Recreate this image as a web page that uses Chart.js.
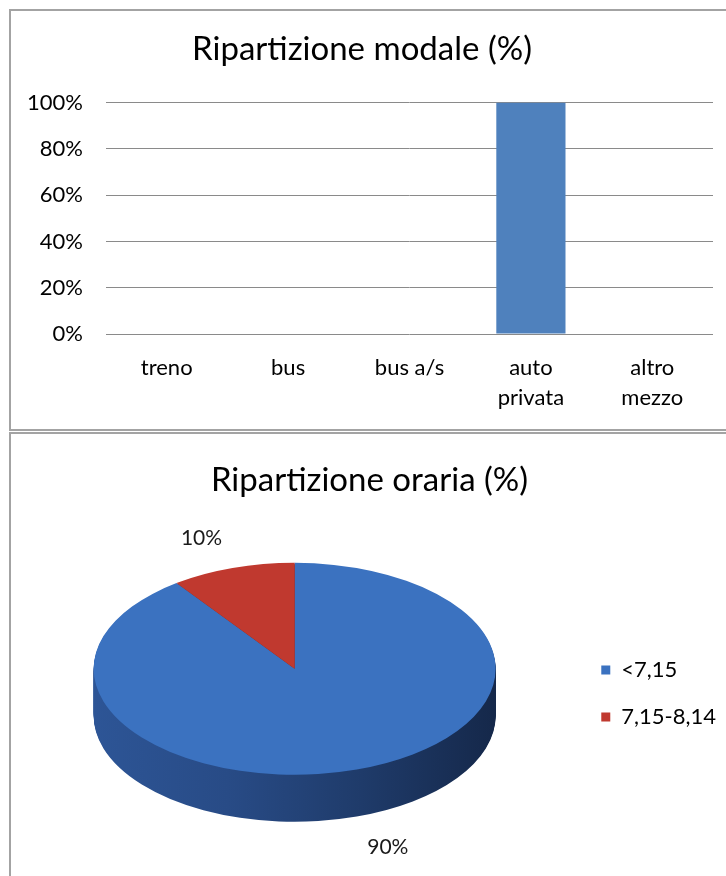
<!DOCTYPE html>
<html>
<head>
<meta charset="utf-8">
<script src="https://cdn.jsdelivr.net/npm/chart.js@4/dist/chart.umd.min.js"></script>
<style>
html,body{margin:0;padding:0;background:#fff;width:726px;height:876px;overflow:hidden;}
.panel{position:absolute;box-sizing:border-box;border:2px solid #a3a3a3;border-right:none;}
#p1{left:9px;top:9px;width:717px;height:422px;}
#p2{left:9px;top:432px;width:717px;height:450px;border-bottom:none;}
canvas{position:absolute;}
#c1{left:11px;top:11px;}
#c2{left:11px;top:435px;}
</style>
</head>
<body>
<div class="panel" id="p1"></div>
<div class="panel" id="p2"></div>
<canvas id="c1" width="715" height="418"></canvas>
<canvas id="c2" width="715" height="441"></canvas>
<script>
// ---- data ----
const modeCategories = ['treno', 'bus', 'bus a/s', ['auto', 'privata'], ['altro', 'mezzo']];
const modeShares = [0, 0, 0, 100, 0];
const modeTicks = [0, 20, 40, 60, 80, 100];
const timeSlots = ['<7,15', '7,15-8,14'];
const timeShares = [90, 10];

const FONT = 'Lato';

const legendShift = {
  id: 'legendShift',
  afterLayout(chart, args, opts) {
    const lg = chart.legend;
    if (!lg) return;
    lg.top += opts.dy; lg.bottom += opts.dy;
    lg.left += opts.dx; lg.right += opts.dx;
  }
};

const pie3d = {
  id: 'pie3d',
  beforeDatasetsDraw(chart, args, opts) {
    const arcs = chart.getDatasetMeta(0).data;
    if (!arcs.length) return;
    const ctx = chart.ctx;
    const {x: cx, y: cy, outerRadius: r} = arcs[0];
    const k = opts.tilt, d = opts.depth;
    const sides = opts.sideColors.map(stops => {
      const g = ctx.createLinearGradient(cx - r, 0, cx + r, 0);
      stops.forEach((c, i) => g.addColorStop(i / (stops.length - 1), c));
      return g;
    });
    for (let i = d; i >= 1; i--) {
      ctx.save();
      ctx.translate(cx, cy - d / 2 + i);
      ctx.scale(1, k);
      ctx.translate(-cx, -cy);
      arcs.forEach((a, j) => {
        const o = a.options;
        const bg = o.backgroundColor;
        o.backgroundColor = sides[j];
        a.draw(ctx);
        o.backgroundColor = bg;
      });
      ctx.restore();
    }
  },
  beforeDatasetDraw(chart, args, opts) {
    const arcs = chart.getDatasetMeta(0).data;
    const ctx = chart.ctx;
    const {x: cx, y: cy} = arcs[0];
    ctx.save();
    ctx.translate(cx, cy - opts.depth / 2);
    ctx.scale(1, opts.tilt);
    ctx.translate(-cx, -cy);
  },
  afterDatasetDraw(chart) {
    chart.ctx.restore();
  },
  afterDatasetsDraw(chart, args, opts) {
    const arcs = chart.getDatasetMeta(0).data;
    const ctx = chart.ctx;
    const values = chart.data.datasets[0].data;
    const total = values.reduce((s, v) => s + v, 0);
    const {x: cx, y: cy, outerRadius: r} = arcs[0];
    const k = opts.tilt, d = opts.depth;
    ctx.save();
    ctx.font = '21px ' + FONT;
    ctx.fillStyle = '#1a1a1a';
    ctx.textAlign = 'center';
    ctx.textBaseline = 'middle';
    arcs.forEach((a, j) => {
      const mid = (a.startAngle + a.endAngle) / 2;
      const x = cx + Math.cos(mid) * r * opts.fx;
      let y = cy - d / 2 + Math.sin(mid) * r * k * opts.fy;
      if (Math.sin(mid) > 0) y += d;
      ctx.fillText(Math.round(values[j] / total * 100) + '%', x, y);
    });
    ctx.restore();
  }
};

function build() {
  new Chart(document.getElementById('c1'), {
    type: 'bar',
    data: {
      labels: modeCategories,
      datasets: [{
        data: modeShares,
        backgroundColor: '#4F81BD',
        borderWidth: 0,
        barPercentage: 0.57,
        categoryPercentage: 1
      }]
    },
    options: {
      responsive: false,
      animation: false,
      layout: {padding: {left: 0, right: 13, top: 0, bottom: 16}},
      plugins: {
        legend: {display: false},
        tooltip: {enabled: false},
        title: {
          display: true,
          text: 'Ripartizione modale (%)',
          font: {family: FONT, size: 33, weight: 'normal'},
          color: '#000',
          padding: {top: 19, bottom: 33}
        }
      },
      scales: {
        x: {
          afterFit: s => { s.height = 79; },
          grid: {display: false, drawTicks: false},
          border: {display: false},
          ticks: {font: {family: FONT, size: 22, lineHeight: 1.36}, color: '#000', padding: 19, maxRotation: 0, autoSkip: false}
        },
        y: {
          min: 0, max: 100,
          afterBuildTicks: s => { s.ticks = modeTicks.map(v => ({value: v})); },
          afterFit: s => { s.width = 95; },
          grid: {color: '#8a8a8a', lineWidth: 1, drawTicks: false},
          border: {display: false},
          ticks: {font: {family: FONT, size: 22}, color: '#000', padding: 23, callback: v => v + '%'}
        }
      }
    }
  });

  new Chart(document.getElementById('c2'), {
    type: 'pie',
    data: {
      labels: timeSlots,
      datasets: [{
        data: timeShares,
        backgroundColor: ['#3B72C0', '#C0392F'],
        borderWidth: 0,
        radius: 201,
        clip: false
      }]
    },
    options: {
      responsive: false,
      animation: false,
      layout: {padding: {left: 2, right: 0, top: 0, bottom: 2}},
      plugins: {
        tooltip: {enabled: false},
        title: {
          display: true,
          text: 'Ripartizione oraria (%)',
          font: {family: FONT, size: 33, weight: 'normal'},
          color: '#000',
          padding: {top: 26, bottom: 10}
        },
        legend: {
          position: 'right',
          align: 'center',
          labels: {boxWidth: 9, boxHeight: 9, padding: 25, font: {family: FONT, size: 22}, color: '#000'}
        },
        legendShift: {dx: 0, dy: 39},
        pie3d: {
          tilt: 0.527,
          depth: 47,
          fx: 1.5,
          fy: 1.3,
          sideColors: [['#2D5596', '#284B86', '#1F3B6A', '#15284A'], ['#8E2A24', '#7A231E', '#6A1E1A', '#5A1915']]
        }
      }
    },
    plugins: [pie3d, legendShift]
  });
}

if (document.fonts && document.fonts.load) {
  Promise.all([document.fonts.load('33px Lato'), document.fonts.load('22px Lato')]).then(build, build);
} else {
  build();
}
</script>
</body>
</html>
